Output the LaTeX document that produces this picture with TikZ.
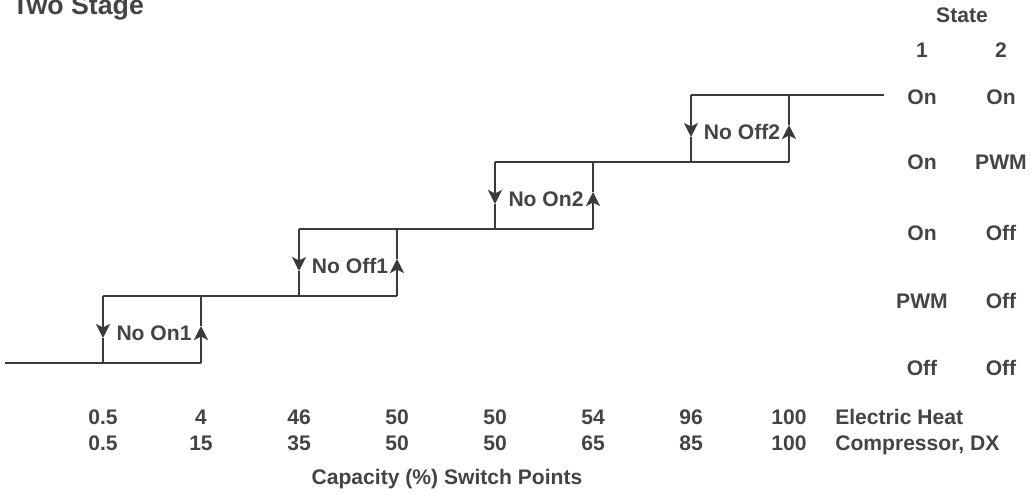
\documentclass[tikz,border=0pt]{standalone}
\usepackage{fontspec}
\setmainfont{Liberation Sans}
\usetikzlibrary{arrows.meta}
\definecolor{inkGray}{HTML}{3A3A3A}
\definecolor{txtGray}{HTML}{444444}

\begin{document}
\begin{tikzpicture}[x=0.025cm, y=-0.025cm,
  stair/.style={line width=1.5pt, draw=inkGray},
  flow/.style={stair, -{Stealth[length=10pt, width=10pt, inset=2.5pt]}},
  lbl/.style={font=\fontsize{15}{18}\selectfont\bfseries, text=txtGray, inner sep=0pt,
              text height=10.8pt, text depth=0pt},
  title/.style={font=\fontsize{19}{22}\selectfont\bfseries, text=txtGray, inner sep=0pt},
]
  \useasboundingbox (0,0) rectangle (1031,493);

  \node[title, anchor=base west] (ttl) at (12,14) {Two Stage};

  % hysteresis boxes
  \foreach \k/\xl/\txt in {1/103/No On1, 2/299/No Off1, 3/495/No On2, 4/691/No Off2} {
    \pgfmathsetmacro{\xr}{\xl+98}
    \pgfmathsetmacro{\ylo}{363-67*(\k-1)}
    \pgfmathsetmacro{\yhi}{363-67*\k}
    \coordinate (bl\k) at (\xl,\ylo);
    \coordinate (tl\k) at (\xl,\yhi);
    \coordinate (br\k) at (\xr,\ylo);
    \coordinate (tr\k) at (\xr,\yhi);
    \coordinate (dn\k) at (\xl,\ylo-25);
    \coordinate (up\k) at (\xr,\ylo-37);
    \node[lbl] (gap\k) at (\xl+51,\ylo-30) {\txt};
    \draw[flow] (tl\k) -- (dn\k);
    \draw[stair] (dn\k) -- (bl\k);
    \draw[flow] (br\k) -- (up\k);
    \draw[stair] (up\k) -- (tr\k);
  }

  \coordinate (start) at (5,363);
  \coordinate (finish) at (884,96);
  \draw[stair] (start) -- (br1);
  \draw[stair] (tl1) -- (br2);
  \draw[stair] (tl2) -- (br3);
  \draw[stair] (tl3) -- (br4);
  \draw[stair] (tl4) -- (tl4 -| finish);

  % state table
  \node[lbl] (state) at (962,15) {State};
  \node[lbl] (col1) at (922,50) {1};
  \node[lbl] (col2) at (1001,50) {2};
  \foreach \y/\sa/\sb [count=\i] in {97/On/On, 162/On/PWM, 233/On/Off, 301/PWM/Off, 368/Off/Off} {
    \node[lbl] (sa\i) at (922,\y) {\sa};
    \node[lbl] (sb\i) at (1001,\y) {\sb};
  }

  % switch points
  \foreach \x/\eh/\dx [count=\i] in {103/0.5/0.5, 201/4/15, 299/46/35, 397/50/50,
                                     495/50/50, 593/54/65, 691/96/85, 789/100/100} {
    \node[lbl] (eh\i) at (\x,417) {\eh};
    \node[lbl] (dx\i) at (\x,443) {\dx};
  }
  \node[lbl, anchor=west] (ehlbl) at (835,417) {Electric Heat};
  \node[lbl, anchor=west] (dxlbl) at (835,443) {Compressor, DX};
  \node[lbl] (axis) at (447,477) {Capacity (\%) Switch Points};
\end{tikzpicture}
\end{document}
